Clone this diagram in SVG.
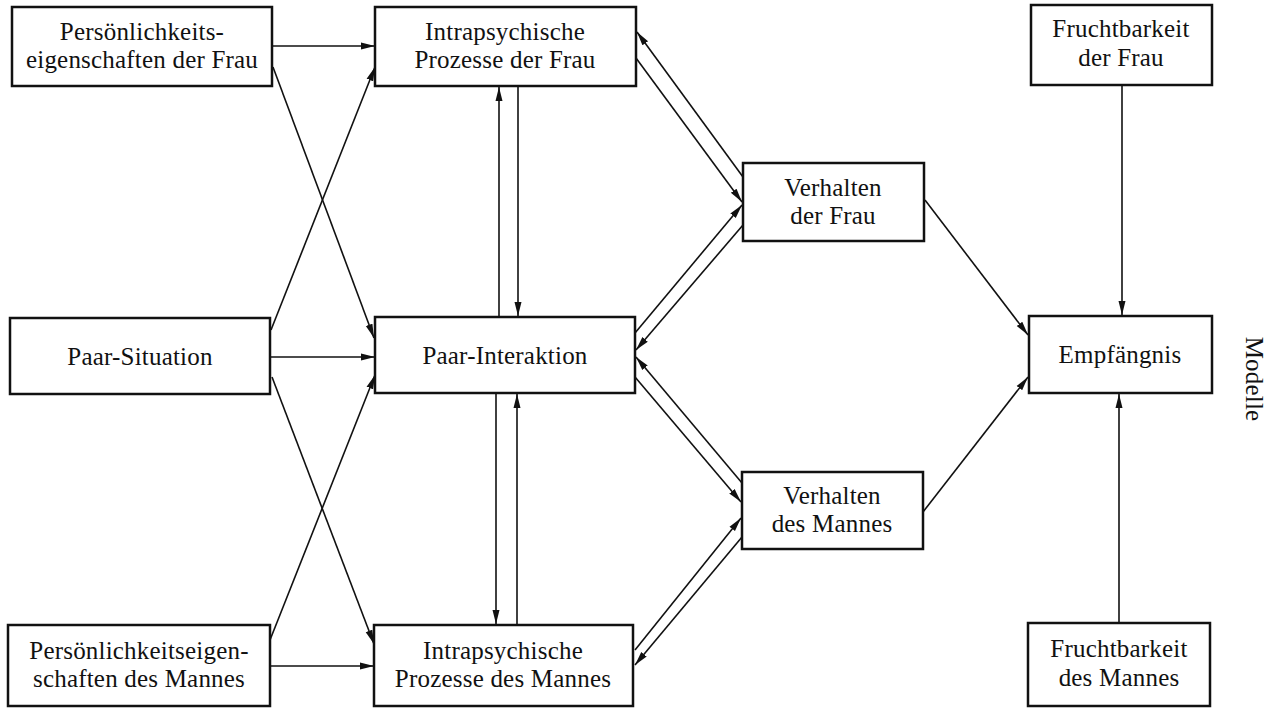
<svg xmlns="http://www.w3.org/2000/svg" width="1273" height="708" viewBox="0 0 1273 708">
<style>
.box{fill:#fff;stroke:#111;stroke-width:2.5}
.t{font-family:"Liberation Serif",serif;font-size:25px;letter-spacing:0.2px;fill:#111;text-anchor:middle}
.c line{stroke:#111;stroke-width:1.6;fill:none}
.a{marker-end:url(#ah)}
</style>
<defs>
<marker id="ah" markerUnits="userSpaceOnUse" markerWidth="15" markerHeight="9" refX="14" refY="4.5" orient="auto">
<path d="M0,1 L14,4.5 L0,8 z" fill="#111"/>
</marker>
</defs>
<rect width="1273" height="708" fill="#fff"/>
<g class="c" id="connectors">
<line class="a" x1="272" y1="46" x2="375" y2="46"/>
<line class="a" x1="273" y1="67" x2="374" y2="338"/>
<line class="a" x1="271" y1="330" x2="375" y2="67"/>
<line class="a" x1="270" y1="357" x2="375" y2="357"/>
<line class="a" x1="272" y1="377" x2="374" y2="644"/>
<line class="a" x1="270" y1="640" x2="375" y2="375"/>
<line class="a" x1="270" y1="666" x2="374" y2="666"/>
<line class="a" x1="499" y1="317" x2="499" y2="87"/>
<line class="a" x1="518" y1="86" x2="518" y2="316"/>
<line class="a" x1="496" y1="394" x2="496" y2="624"/>
<line class="a" x1="517" y1="625" x2="517" y2="394"/>
<line class="a" x1="743" y1="177" x2="637" y2="32"/>
<line class="a" x1="636" y1="58" x2="742" y2="202"/>
<line class="a" x1="635" y1="333" x2="742" y2="205"/>
<line class="a" x1="743" y1="225" x2="636" y2="350"/>
<line class="a" x1="742" y1="483" x2="636" y2="357"/>
<line class="a" x1="635" y1="377" x2="741" y2="502"/>
<line class="a" x1="635" y1="650" x2="741" y2="518"/>
<line class="a" x1="742" y1="537" x2="635" y2="665"/>
<line class="a" x1="925" y1="200" x2="1028" y2="335"/>
<line class="a" x1="923" y1="512" x2="1028" y2="377"/>
<line class="a" x1="1122" y1="85" x2="1122" y2="315"/>
<line class="a" x1="1119" y1="623" x2="1119" y2="394"/>
</g>
<g id="pers-frau"><rect class="box" x="12" y="7" width="260" height="79"/><text class="t" x="142" y="40">Persönlichkeits-</text><text class="t" x="142" y="68">eigenschaften der Frau</text></g>
<g id="intra-frau"><rect class="box" x="375" y="7" width="261" height="79"/><text class="t" x="505" y="40">Intrapsychische</text><text class="t" x="505" y="68">Prozesse der Frau</text></g>
<g id="frucht-frau"><rect class="box" x="1031" y="5" width="181" height="80"/><text class="t" x="1121" y="37">Fruchtbarkeit</text><text class="t" x="1121" y="66">der Frau</text></g>
<g id="verh-frau"><rect class="box" x="743" y="163" width="181" height="78"/><text class="t" x="833" y="196">Verhalten</text><text class="t" x="833" y="224">der Frau</text></g>
<g id="paar-sit"><rect class="box" x="10" y="318" width="260" height="76"/><text class="t" x="140" y="365">Paar-Situation</text></g>
<g id="paar-int"><rect class="box" x="375" y="317" width="260" height="76"/><text class="t" x="505" y="364">Paar-Interaktion</text></g>
<g id="empf"><rect class="box" x="1029" y="316" width="183" height="77"/><text class="t" x="1120" y="363">Empfängnis</text></g>
<g id="verh-mann"><rect class="box" x="742" y="472" width="181" height="77"/><text class="t" x="832" y="504">Verhalten</text><text class="t" x="832" y="532">des Mannes</text></g>
<g id="pers-mann"><rect class="box" x="8" y="625" width="262" height="81"/><text class="t" x="139" y="659">Persönlichkeitseigen-</text><text class="t" x="139" y="687">schaften des Mannes</text></g>
<g id="intra-mann"><rect class="box" x="374" y="625" width="259" height="81"/><text class="t" x="503" y="659">Intrapsychische</text><text class="t" x="503" y="687">Prozesse des Mannes</text></g>
<g id="frucht-mann"><rect class="box" x="1028" y="623" width="182" height="83"/><text class="t" x="1119" y="657">Fruchtbarkeit</text><text class="t" x="1119" y="686">des Mannes</text></g>
<text class="t" transform="translate(1246,379) rotate(90)">Modelle</text>
</svg>
